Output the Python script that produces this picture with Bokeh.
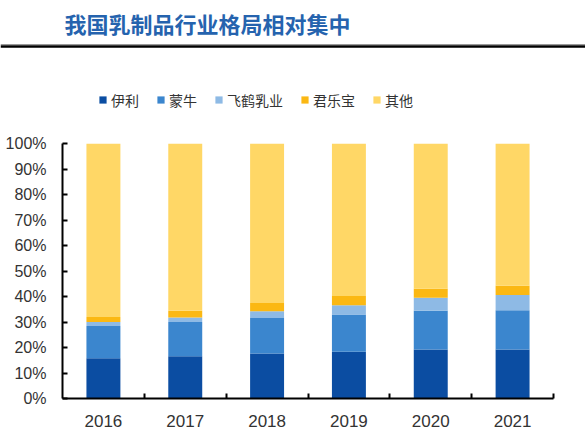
from bokeh.plotting import figure
from bokeh.layouts import column
from bokeh.models import (Range1d, FixedTicker, NumeralTickFormatter, Legend, LegendItem)
from bokeh.core.properties import value
from bokeh.embed import file_html
from bokeh.resources import INLINE

# ---- data ----
years = ["2016", "2017", "2018", "2019", "2020", "2021"]
yili = [0.158, 0.166, 0.176, 0.183, 0.192, 0.192]
mengniu = [0.126, 0.134, 0.140, 0.146, 0.152, 0.154]
feihe = [0.016, 0.018, 0.026, 0.037, 0.051, 0.060]
junlebao = [0.020, 0.026, 0.033, 0.036, 0.035, 0.036]
others = [1 - a - b - c - d for a, b, c, d in zip(yili, mengniu, feihe, junlebao)]
series_names = ["伊利", "蒙牛", "飞鹤乳业", "君乐宝", "其他"]
colors = ["#0B4DA2", "#3B86CE", "#8EBAE5", "#FBB813", "#FFD766"]
title_text = "我国乳制品行业格局相对集中"
y_ticks = [i / 10 for i in range(11)]

W = 585
HEAD_H = 120
MAIN_H = 321

# ---- header (title, rule lines, legend) ----
head = figure(width=W, height=HEAD_H, x_range=Range1d(0, W), y_range=Range1d(0, HEAD_H),
              output_backend="svg", toolbar_location=None, min_border=0,
              x_axis_location=None, y_axis_location=None)
head.frame_align = False
head.outline_line_color = None
head.grid.visible = False
head.text(x=[64], y=[98], text=[title_text], text_font=value("Noto Sans CJK SC"),
          text_font_size="22px", text_font_style="bold", text_color="#2563AE",
          text_baseline="middle", text_align="left")
head.segment(x0=[0], x1=[W], y0=[76], y1=[76], line_color="#9a9a9a", line_width=1)
head.segment(x0=[0], x1=[W], y0=[74], y1=[74], line_color="#000000", line_width=2.5)

# legend proxies (zero-height glyphs carrying each series colour)
proxies = [head.vbar(x=[0], top=[0], width=0, fill_color=c, line_color=None) for c in colors]
legend = Legend(items=[LegendItem(label=nm, renderers=[r]) for nm, r in zip(series_names, proxies)],
                orientation="horizontal", location=(98, 10.5),
                glyph_width=9, glyph_height=9, label_standoff=4, spacing=17,
                padding=0, margin=0, label_height=20,
                label_text_font="Noto Sans CJK SC", label_text_font_size="14px",
                label_text_color="#333333",
                border_line_color=None, background_fill_alpha=0)
head.add_layout(legend, "center")

# ---- main chart ----
n = len(years)
centers = [i + 0.5 for i in range(n)]
bounds = [i + 1 for i in range(n)]

p = figure(width=W, height=MAIN_H, x_range=Range1d(0, n), y_range=Range1d(0, 1),
           output_backend="svg", toolbar_location=None,
           min_border_left=62, min_border_right=32, min_border_top=23, min_border_bottom=43)
p.frame_align = False
p.outline_line_color = None
p.grid.visible = False

data = dict(x=centers, yili=yili, mengniu=mengniu, feihe=feihe,
            junlebao=junlebao, others=others)
keys = ["yili", "mengniu", "feihe", "junlebao", "others"]
p.vbar_stack(keys, x="x", width=0.415, color=colors, line_color=None, source=data)

# y axis
ya = p.yaxis[0]
ya.ticker = FixedTicker(ticks=y_ticks, minor_ticks=[])
ya.formatter = NumeralTickFormatter(format="0%")
ya.axis_line_width = 2
ya.axis_line_color = "#000000"
ya.major_tick_in = 5
ya.major_tick_out = 0
ya.major_tick_line_width = 2
ya.major_tick_line_color = "#000000"
ya.minor_tick_line_color = None
ya.major_label_text_font = "Liberation Sans"
ya.major_label_text_font_size = "16px"
ya.major_label_text_color = "#333333"
ya.major_label_standoff = 16

# x axis with ticks between categories
xa = p.xaxis[0]
xa.ticker = FixedTicker(ticks=centers, minor_ticks=bounds)
xa.major_label_overrides = {c: y for c, y in zip(centers, years)}
xa.axis_line_width = 2
xa.axis_line_color = "#000000"
xa.major_tick_line_color = None
xa.minor_tick_in = 5
xa.minor_tick_out = 0
xa.minor_tick_line_width = 2
xa.minor_tick_line_color = "#000000"
xa.major_label_text_font = "Liberation Sans"
xa.major_label_text_font_size = "17px"
xa.major_label_text_color = "#333333"
xa.major_label_standoff = 10

layout = column(head, p, spacing=0)
open("out.html", "w").write(file_html(layout, INLINE))
